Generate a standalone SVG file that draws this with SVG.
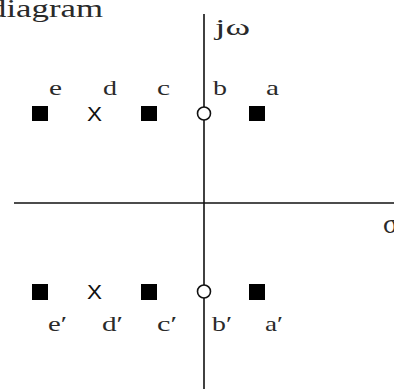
<svg xmlns="http://www.w3.org/2000/svg" width="394" height="389" viewBox="0 0 394 389">
<style>
.lbl{font-family:"Liberation Serif","DejaVu Serif",serif;font-size:22px;fill:#2a2a2a}
.ax{stroke:#111;stroke-width:1.6;fill:none}
.sq{fill:#000}
.zero{fill:#fff;stroke:#111;stroke-width:1.6}
.xm{font-family:"Liberation Sans","DejaVu Sans",sans-serif;font-size:20px;fill:#111}
</style>
<rect width="394" height="389" fill="#fff"/>
<text class="lbl" x="-11" y="17" style="font-size:25px" textLength="114" lengthAdjust="spacingAndGlyphs">diagram</text>
<g id="axes">
<line class="ax" x1="204" y1="14" x2="204" y2="389"/>
<line class="ax" x1="14" y1="203" x2="394" y2="203"/>
<text class="lbl" x="215" y="35" style="font-size:23px" textLength="35" lengthAdjust="spacingAndGlyphs">jω</text>
<text class="lbl" x="383" y="233" style="font-size:28px">σ</text>
</g>
<g id="e">
<rect class="sq" x="32" y="106" width="16" height="15"/>
<text class="lbl" x="49" y="95" textLength="13" lengthAdjust="spacingAndGlyphs">e</text>
</g>
<g id="d">
<text class="xm" x="87" y="121" textLength="15" lengthAdjust="spacingAndGlyphs">X</text>
<text class="lbl" x="103" y="95" textLength="14" lengthAdjust="spacingAndGlyphs">d</text>
</g>
<g id="c">
<rect class="sq" x="141" y="106" width="16" height="15"/>
<text class="lbl" x="157" y="95" textLength="13" lengthAdjust="spacingAndGlyphs">c</text>
</g>
<g id="b">
<circle class="zero" cx="204" cy="113.5" r="6.5"/>
<text class="lbl" x="213" y="95" textLength="14" lengthAdjust="spacingAndGlyphs">b</text>
</g>
<g id="a">
<rect class="sq" x="249" y="106" width="16" height="15"/>
<text class="lbl" x="266" y="95" textLength="13" lengthAdjust="spacingAndGlyphs">a</text>
</g>
<g id="e2">
<rect class="sq" x="32" y="284" width="16" height="16"/>
<text class="lbl" x="48" y="331" textLength="19" lengthAdjust="spacingAndGlyphs">e′</text>
</g>
<g id="d2">
<text class="xm" x="87" y="299" textLength="15" lengthAdjust="spacingAndGlyphs">X</text>
<text class="lbl" x="102" y="331" textLength="21" lengthAdjust="spacingAndGlyphs">d′</text>
</g>
<g id="c2">
<rect class="sq" x="141" y="284" width="16" height="16"/>
<text class="lbl" x="157" y="331" textLength="20" lengthAdjust="spacingAndGlyphs">c′</text>
</g>
<g id="b2">
<circle class="zero" cx="204" cy="291.5" r="6.5"/>
<text class="lbl" x="212" y="331" textLength="20" lengthAdjust="spacingAndGlyphs">b′</text>
</g>
<g id="a2">
<rect class="sq" x="249" y="284" width="16" height="16"/>
<text class="lbl" x="265" y="331" textLength="18" lengthAdjust="spacingAndGlyphs">a′</text>
</g>
</svg>
